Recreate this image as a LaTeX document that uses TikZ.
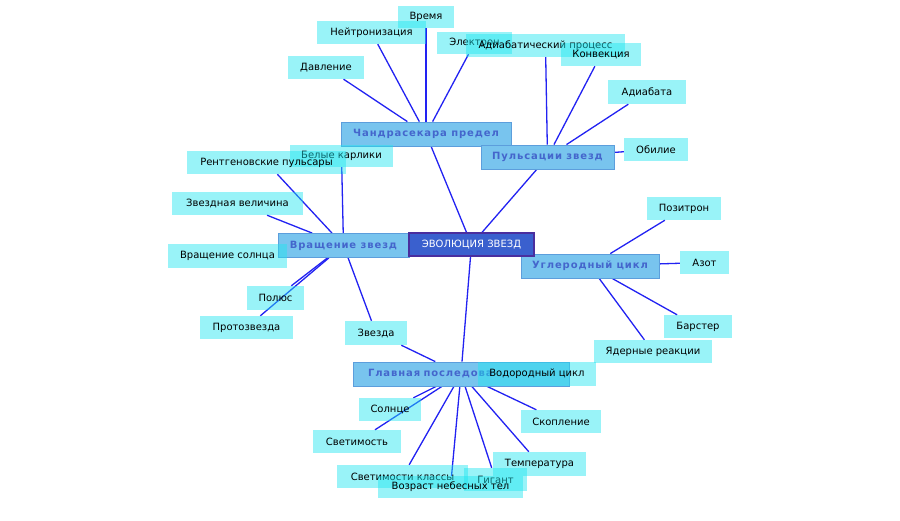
\documentclass[tikz,border=0pt]{standalone}
\usepackage{fontspec}
\setmainfont{DejaVu Sans}
\newfontfamily\topicfont[LetterSpace=9]{DejaVu Sans}
\usepackage{xcolor}
\usepackage{tikz}
\usetikzlibrary{backgrounds}
\definecolor{mapline}{HTML}{2222F2}
\definecolor{leafcyan}{HTML}{1EE6F0}
\definecolor{topicblue}{HTML}{78C4EE}
\definecolor{topicedge}{HTML}{5C9EDC}
\definecolor{topictext}{HTML}{4466CC}
\definecolor{rootblue}{HTML}{3A60CE}
\definecolor{rootedge}{HTML}{4A2E9E}

\begin{document}
\begin{tikzpicture}[
  x=1pt, y=-1pt,
  root/.style={draw=rootedge, line width=1.2pt, fill=rootblue, text=white,
    minimum height=23pt, inner sep=0pt, font=\fontsize{10}{12}\selectfont},
  topic/.style={draw=topicedge, line width=0.8pt, fill=topicblue, text=topictext,
    minimum height=24pt, inner sep=0pt, font=\topicfont\fontsize{10}{12}\selectfont\bfseries},
  leaf/.style={fill=leafcyan, fill opacity=0.45, text opacity=1, text=black,
    minimum height=23pt, inner sep=0pt, font=\fontsize{10}{12}\selectfont},
  link/.style={draw=mapline, line width=1.3pt}
]
\useasboundingbox (0,0) rectangle (900,520);

% topics and the root
\node[topic, minimum width=170pt] (chandra) at (426,134) {Чандрасекара предел};
\node[topic, minimum width=133pt] (pulse) at (547.5,157) {Пульсации звезд};
\node[topic, minimum width=131pt] (rotation) at (343.5,245.5) {Вращение звезд};
\node[topic, minimum width=138pt] (carbon) at (590,266) {Углеродный цикл};
\node[topic, text width=186pt, inner xsep=15pt, align=left] (mainseq) at (461,374) {Главная последова};
\node[root, minimum width=125pt] (evolution) at (471.5,244.5) {ЭВОЛЮЦИЯ ЗВЕЗД};

% leaves round Чандрасекара предел
\node[leaf, minimum width=56pt, minimum height=22pt] (time) at (426,17) {Время};
\node[leaf, minimum width=109pt] (neutron) at (371.5,32.5) {Нейтронизация};
\node[leaf, minimum width=75pt, minimum height=22pt] (electron) at (474.5,43) {Электрон};
\node[leaf, minimum width=76pt] (pressure) at (326,67.5) {Давление};
\node[leaf, minimum width=103pt, minimum height=22pt] (dwarfs) at (341.5,156) {Белые карлики};

% leaves round Пульсации звезд
\node[leaf, minimum width=159pt] (adiaproc) at (545.5,45.5) {Адиабатический процесс};
\node[leaf, minimum width=80pt] (convection) at (601,54.5) {Конвекция};
\node[leaf, minimum width=78pt, minimum height=24pt] (adiabat) at (647,92) {Адиабата};
\node[leaf, minimum width=64pt] (abundance) at (656,149.5) {Обилие};

% leaves round Вращение звезд
\node[leaf, minimum width=159pt] (xray) at (266.5,162.5) {Рентгеновские пульсары};
\node[leaf, minimum width=131pt] (magnitude) at (237.5,203.5) {Звездная величина};
\node[leaf, minimum width=119pt, minimum height=24pt] (sunrot) at (227.5,256) {Вращение солнца};
\node[leaf, minimum width=57pt, minimum height=24pt] (pole) at (275.5,298) {Полюс};
\node[leaf, minimum width=93pt] (proto) at (246.5,327.5) {Протозвезда};
\node[leaf, minimum width=62pt, minimum height=24pt] (star) at (376,333) {Звезда};

% leaves round Углеродный цикл
\node[leaf, minimum width=74pt] (positron) at (684,208.5) {Позитрон};
\node[leaf, minimum width=49pt] (nitrogen) at (704.5,262.5) {Азот};
\node[leaf, minimum width=68pt] (burster) at (698,326.5) {Барстер};
\node[leaf, minimum width=118pt] (nuclear) at (653,351.5) {Ядерные реакции};

% leaves round Главная последовательность
\node[leaf, minimum width=118pt, minimum height=24pt] (hydrogen) at (537,374) {Водородный цикл};
\node[leaf, minimum width=62pt] (sun) at (390,409.5) {Солнце};
\node[leaf, minimum width=88pt] (luminosity) at (357,441.5) {Светимость};
\node[leaf, minimum width=80pt] (cluster) at (561,421.5) {Скопление};
\node[leaf, minimum width=93pt, minimum height=24pt] (temperature) at (539.5,464) {Температура};
\node[leaf, minimum width=131pt] (lumclass) at (402.5,476.5) {Светимости классы};
\node[leaf, minimum width=63pt] (giant) at (495.5,479.5) {Гигант};
\node[leaf, minimum width=145pt, minimum height=22pt] (age) at (450.5,487) {Возраст небесных тел};

\begin{scope}[on background layer]
\fill[white] (0,0) rectangle (900,520);
\draw[link] (evolution) -- (chandra);
\draw[link] (evolution) -- (pulse);
\draw[link] (evolution) -- (mainseq);
\foreach \leafname in {time,neutron,electron,pressure}
  \draw[link] (chandra) -- (\leafname);
\foreach \leafname in {adiaproc,convection,adiabat,abundance}
  \draw[link] (pulse) -- (\leafname);
\foreach \leafname in {xray,dwarfs,magnitude,pole,proto,star}
  \draw[link] (rotation) -- (\leafname);
\foreach \leafname in {positron,nitrogen,burster,nuclear}
  \draw[link] (carbon) -- (\leafname);
\foreach \leafname in {star,sun,luminosity,cluster,temperature,lumclass,giant,age}
  \draw[link] (mainseq) -- (\leafname);
\end{scope}
\end{tikzpicture}
\end{document}
